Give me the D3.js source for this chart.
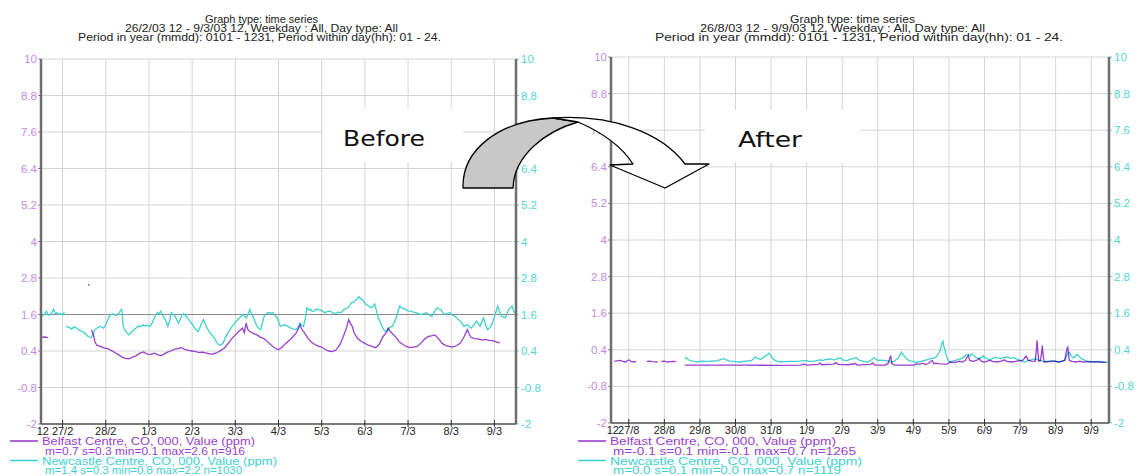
<!DOCTYPE html>
<html>
<head>
<meta charset="utf-8">
<script src="https://cdn.jsdelivr.net/npm/d3@7"></script>
<style>
  body { margin: 0; background: #fff; }
  svg { display: block; }
  text { font-family: "Liberation Sans Narrow", "Arial Narrow", "Liberation Sans", Arial, sans-serif; }
</style>
</head>
<body>
<svg id="chart" width="1137" height="476"></svg>
<script>
// ---- data (hours since the start of each period, value in ppm; null = gap) ----
const yTicks = [-2, -0.8, 0.4, 1.6, 2.8, 4, 5.2, 6.4, 7.6, 8.8, 10];
const yTickLabels = ["-2", "-0.8", "0.4", "1.6", "2.8", "4", "5.2", "6.4", "7.6", "8.8", "10"];

const beforeTickLabels = ["12", "27/2", "28/2", "1/3", "2/3", "3/3", "4/3", "5/3", "6/3", "7/3", "8/3", "9/3"];
const afterTickLabels = ["12", "27/8", "28/8", "29/8", "30/8", "31/8", "1/9", "2/9", "3/9", "4/9", "5/9", "6/9", "7/9", "8/9", "9/9"];

const beforeTitle = ["Graph type: time series",
  "26/2/03 12 - 9/3/03 12, Weekday : All, Day type: All",
  "Period in year (mmdd): 0101 - 1231, Period within day(hh): 01 - 24."];
const afterTitle = ["Graph type: time series",
  "26/8/03 12 - 9/9/03 12, Weekday : All, Day type: All",
  "Period in year (mmdd): 0101 - 1231, Period within day(hh): 01 - 24."];

const beforeLegend = ["Belfast Centre, CO, 000, Value (ppm)", "m=0.7 s=0.3 min=0.1 max=2.6 n=916",
  "Newcastle Centre, CO, 000, Value (ppm)", "m=1.4 s=0.3 min=0.8 max=2.2 n=1030"];
const afterLegend = ["Belfast Centre, CO, 000, Value (ppm)", "m=-0.1 s=0.1 min=-0.1 max=0.7 n=1265",
  "Newcastle Centre, CO, 000, Value (ppm)", "m=0.0 s=0.1 min=0.0 max=0.7 n=1119"];

const belfastBefore = [[0,0.85],[2,0.86],[4,0.84],[5,null],
  [26.3,2.6],[26.8,2.55],[27,null],
  [28,1.1],[29,0.95],[30,0.7],[31,0.59],[33,0.55],[35,0.5],[37,0.48],[39,0.42],[41,0.35],[43,0.28],[45,0.2],[47,0.16],[49,0.14],
  [51,0.2],[53,0.25],[55,0.33],[57,0.37],[59,0.3],[61,0.29],[63,0.33],[65,0.27],[67,0.25],[69,0.32],[71,0.38],[72,0.4],[74,0.45],
  [76,0.48],[78,0.51],[80,0.45],[82,0.42],[84,0.4],[86,0.38],[88,0.35],[90,0.36],[92,0.33],[94,0.3],[96,0.31],[98,0.35],[100,0.42],
  [102,0.5],[104,0.65],[106,0.8],[108,0.93],[110,1.05],[112,1.15],[113,1.0],[114,1.32],[115,1.1],[116,1.04],[118,0.98],[120,0.93],
  [122,0.85],[124,0.81],[126,0.7],[128,0.59],[130,0.5],[132,0.44],[134,0.52],[136,0.65],[138,0.75],[140,0.87],[142,1.0],[144,1.26],
  [145,1.1],[146,1.04],[148,0.85],[150,0.7],[152,0.62],[154,0.56],[156,0.53],[158,0.45],[160,0.4],[162,0.38],[164,0.44],[166,0.6],
  [168,0.87],[170,1.2],[171,1.43],[172,1.3],[173,1.21],[174,1.0],[176,0.81],[178,0.72],[180,0.65],[182,0.59],[184,0.55],[186,0.51],
  [188,0.62],[190,0.87],[192,1.0],[193,1.15],[194,1.05],[196,0.93],[198,0.8],[199,0.7],[201,0.62],[203,0.55],[205,0.51],[207,0.53],
  [209,0.55],[211,0.65],[213,0.78],[215,0.87],[217,0.9],[219,0.93],[221,0.8],[223,0.65],[225,0.58],[227,0.55],[229,0.53],[231,0.58],
  [233,0.65],[235,0.85],[237,1.1],[238,0.95],[239,0.85],[241,0.81],[243,0.8],[245,0.76],[247,0.78],[249,0.75],[251,0.74],[253,0.7],[255,0.67]];

const newcastleBefore = [[0.7,1.54],[2,1.62],[3.1,1.71],[4,1.58],[5.1,1.6],[6,1.66],[7,1.77],[8,1.62],[9,1.66],[10,1.6],[11,1.63],[12,1.58],[13,1.68],[13.5,null],
  [14,1.21],[15.5,1.18],[17,1.12],[18.5,1.2],[19.9,1.15],[21.5,1.08],[22.9,1.04],[24.5,0.98],[25.9,0.89],[27,0.86],[27.9,0.84],[29,0.95],
  [29.8,1.1],[31,1.15],[32.8,1.21],[34,1.18],[34.8,1.15],[36,1.26],[36.8,1.38],[38,1.55],[38.8,1.6],[40,1.62],[41.7,1.57],[43,1.63],
  [44.7,1.77],[45.2,1.6],[45.7,1.21],[47,1.05],[48.7,0.93],[50,1.0],[51.5,1.1],[52.7,1.15],[54,1.22],[55.5,1.2],[56.6,1.26],[58,1.22],
  [59,1.25],[60.6,1.21],[62,1.35],[63.5,1.55],[64.6,1.66],[65.5,1.62],[66.5,1.71],[67.5,1.6],[68.5,1.49],[69.5,1.38],[70.5,1.21],
  [71.5,1.4],[72.5,1.66],[73.5,1.6],[74.5,1.54],[75.5,1.42],[76.4,1.32],[77.5,1.45],[78.5,1.6],[79.4,1.63],[80.5,1.55],[81.4,1.49],
  [82.5,1.4],[83.4,1.32],[84.5,1.25],[85.4,1.15],[86.5,1.08],[87.4,1.04],[88.5,1.2],[89.5,1.35],[90.3,1.43],[91.3,1.3],[92.3,1.15],
  [93.3,1.05],[94.3,0.98],[95.3,0.9],[96.3,0.82],[97.5,0.7],[98.5,0.62],[99.3,0.59],[100.2,0.62],[101.2,0.65],[102.2,0.8],[103.2,0.93],
  [104.5,1.05],[106.2,1.21],[107.5,1.3],[109.2,1.43],[110.5,1.5],[112.1,1.6],[113,1.55],[114.1,1.49],[115,1.6],[116.1,1.77],[117,1.62],
  [118.1,1.49],[119,1.35],[120.1,1.21],[121,1.15],[122.1,1.1],[123,1.3],[124,1.54],[125,1.62],[126,1.66],[127.5,1.65],[129,1.66],
  [130,1.58],[131,1.52],[132,1.38],[133,1.21],[134.5,1.25],[135.9,1.26],[137.5,1.2],[138.9,1.15],[140.5,1.12],[141.9,1.1],[143,1.2],
  [143.9,1.32],[145,1.25],[145.9,1.21],[147,1.5],[147.8,1.82],[148.8,1.75],[149.8,1.77],[150.8,1.7],[151.8,1.71],[153,1.78],[154.8,1.75],
  [156.3,1.72],[157.8,1.66],[159.2,1.7],[160.7,1.71],[162.2,1.65],[163.7,1.63],[165.2,1.68],[166.7,1.66],[167.7,1.72],[168.7,1.77],
  [169.7,1.8],[170.6,1.82],[171.6,1.9],[172.6,1.99],[173.6,2.0],[174.6,2.05],[175.6,2.1],[176.6,2.19],[177.6,2.12],[178.6,2.1],
  [179.6,2.0],[180.6,1.94],[182,1.88],[183.5,1.82],[184.5,1.88],[185.5,1.94],[186.5,1.7],[187.5,1.49],[188.5,1.35],[189.5,1.21],
  [190.5,1.1],[191.5,1.04],[192.5,1.1],[193.4,1.15],[194.4,1.2],[195.4,1.21],[196.4,1.35],[197.4,1.49],[198.4,1.7],[199.4,1.88],
  [201,1.8],[202.4,1.77],[204,1.72],[205.3,1.71],[207,1.68],[208.3,1.66],[210,1.62],[211.3,1.6],[213,1.64],[214.3,1.66],[216,1.58],
  [217.2,1.54],[218.7,1.7],[220.2,1.82],[221.2,1.78],[222.2,1.77],[223.2,1.68],[224.2,1.6],[225.7,1.63],[227.2,1.66],[228.7,1.58],
  [230.1,1.54],[231.6,1.45],[233.1,1.38],[234.1,1.3],[235.1,1.21],[236.1,1.24],[237.1,1.26],[238.1,1.2],[239.1,1.15],[240.5,1.25],
  [242,1.38],[243,1.3],[244,1.21],[245,1.35],[246,1.49],[247,1.3],[248,1.1],[249,1.15],[250,1.21],[251,1.35],[251.9,1.49],[252.9,1.7],
  [253.9,1.88],[254.9,1.7],[255.9,1.54],[256.9,1.52],[257.9,1.49],[258.9,1.6],[259.9,1.77],[260.9,1.82],[261.8,1.88],[262.8,1.7],[264,1.62]];

const belfastAfter = [[2.3,0.02],[4,0.04],[6,0.05],[8,0.02],[9.8,0.0],[11,0.05],[12.2,0.07],[13.5,0.02],[14.7,0.0],[16.9,0.02],[17.5,null],
  [24.2,0.02],[26,0.03],[28,0.01],[31.5,0.0],[32,null],[34,0.02],[36.4,0.03],[38,0.0],[40,0.01],[42,0.02],[43.7,0.01],[44.5,null],
  [49.8,-0.1],[70,-0.1],[90,-0.1],[110,-0.11],[128,-0.1],[130,-0.06],[132,-0.1],[140,-0.08],[141,-0.03],[142,-0.09],[150,-0.07],
  [152,-0.02],[153,-0.08],[160,-0.09],[165,-0.05],[166,-0.1],[175,-0.08],[176.5,-0.03],[178,-0.1],[185,-0.1],[187,-0.04],[188.7,0.21],
  [189.5,-0.05],[191,-0.1],[200,-0.1],[204.5,-0.1],[206,-0.06],[208,-0.07],[210.6,-0.04],[212,-0.08],[214,-0.05],[216.7,0.05],
  [218,-0.06],[219.1,-0.04],[222,-0.06],[226.5,-0.07],[228.9,0.0],[231,-0.02],[233,0.0],[235,0.03],[237,0.0],[239,0.05],[240,0.14],
  [241.1,0.21],[242,0.05],[244.7,0.02],[246.5,0.05],[248.4,0.11],[250,0.02],[252,0.0],[254,0.03],[255.7,0.05],[257.5,0.02],[260.6,0.0],
  [263,0.03],[265.5,0.07],[267,0.02],[270,0.0],[272.8,0.02],[275,0.04],[278,0.06],[280.1,0.2],[281.5,0.06],[283.7,0.03],[286.2,0.02],
  [287,0.4],[287.4,0.7],[288,0.35],[288.6,0.03],[289.8,0.05],[290.5,0.3],[291,0.54],[291.6,0.2],[292.3,0.0],[294,0.02],[296,0.01],
  [299.6,0.03],[302,0.0],[304,0.02],[306.2,0.05],[307,0.3],[308.1,0.51],[309,0.12],[309.3,0.05],[311,0.02],[314.2,0.0],[316,0.03],
  [319.1,0.0],[322,0.01],[326.4,0.0],[330,0.0],[333.7,-0.01]];

const newcastleAfter = [[49.8,0.11],[51,0.14],[52,0.08],[53.4,0.05],[55,0.03],[56.5,0.02],[58.3,0.0],[60,0.02],[62,0.03],[64,0.02],
  [65.6,0.02],[67,0.03],[69,0.04],[70.5,0.03],[72,0.05],[74,0.08],[75.5,0.1],[76.6,0.11],[78,0.06],[80.2,0.03],[82,0.02],[84,0.01],
  [86,0.0],[87.5,0.0],[89,0.02],[91,0.03],[93,0.04],[94.9,0.05],[96,0.1],[97.3,0.16],[98.5,0.13],[99.7,0.11],[101,0.08],[102.5,0.14],
  [104.6,0.21],[105.5,0.24],[106.6,0.29],[107.5,0.24],[108.3,0.16],[109.5,0.1],[110.7,0.05],[112.5,0.02],[114.4,0.0],[117,0.01],
  [120,0.02],[124.1,0.02],[127,0.03],[129,0.04],[131.4,0.05],[133,0.03],[134.5,0.02],[136.3,0.02],[138,0.04],[140,0.06],[141.2,0.07],
  [143,0.05],[144.5,0.08],[146,0.09],[148,0.1],[149.5,0.08],[150.9,0.07],[152.5,0.1],[153.5,0.12],[154.6,0.14],[156,0.08],[157,0.06],
  [158.2,0.05],[160,0.06],[161.5,0.09],[163.1,0.11],[164.5,0.13],[165.5,0.14],[166.5,0.09],[168,0.05],[170,0.03],[171.5,0.01],
  [172.8,0.0],[174.5,0.03],[176,0.08],[177.7,0.14],[179,0.08],[180.2,0.05],[182,0.06],[183.5,0.05],[185,0.05],[187,0.03],[188.5,0.01],
  [189.9,0.0],[191.5,0.04],[192.5,0.09],[193.6,0.11],[194.5,0.2],[196,0.32],[197,0.25],[198.4,0.16],[200,0.08],[202.1,0.03],[204,0.02],
  [205.5,-0.02],[207,0.0],[209,0.02],[211.8,0.05],[213.5,0.08],[215.5,0.11],[217.5,0.13],[219.1,0.16],[220.5,0.24],[221.6,0.32],
  [222.5,0.45],[223.3,0.62],[224,0.68],[224.6,0.5],[225.2,0.43],[225.8,0.3],[226.5,0.16],[227.5,0.05],[228.9,0.0],[230.5,0.03],
  [232.5,0.05],[234.5,0.09],[236.2,0.11],[238,0.16],[239.5,0.22],[241.1,0.25],[242.5,0.2],[243.5,0.27],[244.7,0.21],[246.5,0.14],
  [248.4,0.11],[250,0.16],[251,0.2],[252,0.16],[254,0.1],[255.7,0.07],[257.5,0.12],[259.4,0.16],[261,0.13],[263,0.11],[265,0.15],
  [267.9,0.16],[269.5,0.12],[271.5,0.14],[273.5,0.1],[275.2,0.07],[277,0.03],[278.9,0.0],[280.5,0.03],[282.5,0.05],[284.5,0.09],
  [286.2,0.11],[288,0.07],[289.8,0.05],[291.5,0.02],[293.5,0.0],[295.5,0.03],[297.1,0.05],[299.5,0.03],[302,0.0],[304,0.03],[305.7,0.05],
  [307,0.15],[308.2,0.28],[309.3,0.32],[310.5,0.2],[311.8,0.14],[313,0.16],[314,0.24],[315.4,0.21],[317,0.12],[319.1,0.07],[321.5,0.03],
  [324,0.0],[326.5,0.01],[328.8,0.02],[331,0.0],[333.7,-0.01],[336,0.0]];

// ---- colours ----
const purple = "#9a3fcf", cyan = "#3fd0d0";
const purpleLabel = "#c48ae6", cyanLabel = "#55d4d4";

const svg = d3.select("#chart");

function drawPanel(p) {
  const g = svg.append("g");
  const x = d3.scaleLinear().domain([0, p.hours]).range([p.left, p.right]);
  const y = d3.scaleLinear().domain([-2, 10]).range([p.bottom, p.top]);
  const tickHours = p.tickLabels.map((d, i) => i === 0 ? 0 : 12 + 24 * (i - 1));

  // grid
  g.selectAll(".vg").data(tickHours.slice(1)).enter().append("line")
    .attr("x1", d => x(d)).attr("x2", d => x(d))
    .attr("y1", p.top).attr("y2", p.bottom)
    .attr("stroke", "#d4d4d4").attr("stroke-width", 1);
  g.selectAll(".hg").data(yTicks).enter().append("line")
    .attr("x1", p.left).attr("x2", p.right)
    .attr("y1", d => y(d)).attr("y2", d => y(d))
    .attr("stroke", d => (p.darkLine === d ? "#8a8a8a" : "#d4d4d4")).attr("stroke-width", 1);

  // y tick labels, left (purple) and right (cyan)
  g.selectAll(".yl").data(yTicks).enter().append("text")
    .attr("x", p.left - 4).attr("y", d => y(d) + 4)
    .attr("text-anchor", "end").attr("font-size", 11.5).attr("fill", purpleLabel)
    .text((d, i) => yTickLabels[i]);
  g.selectAll(".yr").data(yTicks).enter().append("text")
    .attr("x", p.right + 5).attr("y", d => y(d) + 4)
    .attr("font-size", 11.5).attr("fill", cyanLabel)
    .text((d, i) => yTickLabels[i]);
  g.selectAll(".ytl").data(yTicks).enter().append("line")
    .attr("x1", p.left - 3).attr("x2", p.left).attr("y1", d => y(d)).attr("y2", d => y(d))
    .attr("stroke", "#888");
  g.selectAll(".ytr").data(yTicks).enter().append("line")
    .attr("x1", p.right).attr("x2", p.right + 3).attr("y1", d => y(d)).attr("y2", d => y(d))
    .attr("stroke", cyanLabel);

  // series
  const clipId = "clip" + p.left;
  svg.append("clipPath").attr("id", clipId).append("rect")
    .attr("x", p.left).attr("y", p.top).attr("width", p.right - p.left).attr("height", p.bottom - p.top);
  const line = d3.line().defined(d => d[1] !== null).x(d => x(d[0])).y(d => y(d[1]));
  const lines = g.append("g").attr("clip-path", "url(#" + clipId + ")");
  lines.append("path").datum(p.newcastle).attr("d", line)
    .attr("fill", "none").attr("stroke", cyan).attr("stroke-width", 1.3);
  lines.append("path").datum(p.belfast).attr("d", line)
    .attr("fill", "none").attr("stroke", purple).attr("stroke-width", 1.3)
    .style("mix-blend-mode", "multiply");

  // axes frame
  g.append("line").attr("x1", p.left).attr("x2", p.left).attr("y1", p.top).attr("y2", p.bottom)
    .attr("stroke", "#6e6e6e").attr("stroke-width", 2.5);
  g.append("line").attr("x1", p.right).attr("x2", p.right).attr("y1", p.top).attr("y2", p.bottom)
    .attr("stroke", "#6e6e6e").attr("stroke-width", 2.5);
  g.append("line").attr("x1", p.left).attr("x2", p.right).attr("y1", p.bottom).attr("y2", p.bottom)
    .attr("stroke", "#555").attr("stroke-width", 1.5);

  // x ticks and labels (first label is the start hour, set just left of the first day)
  g.selectAll(".xt").data(tickHours.slice(1)).enter().append("line")
    .attr("x1", d => x(d)).attr("x2", d => x(d)).attr("y1", p.bottom - 4).attr("y2", p.bottom + 3)
    .attr("stroke", "#333");
  g.selectAll(".xl").data(tickHours).enter().append("text")
    .attr("x", d => x(d) + (d === 0 ? 8 : 0)).attr("y", p.bottom + 11)
    .attr("text-anchor", d => d === 0 ? "end" : "middle")
    .attr("font-size", 11).attr("fill", "#222")
    .text((d, i) => p.tickLabels[i]);

  // title
  g.selectAll(".tt").data(p.title).enter().append("text")
    .attr("x", (d, i) => p.titleX[i]).attr("y", (d, i) => [23, 32, 41][i])
    .attr("font-size", 10).attr("fill", "#222")
    .attr("textLength", (d, i) => p.titleW[i]).attr("lengthAdjust", "spacingAndGlyphs")
    .text(d => d);

  // legend
  const legY = [445, 454.5, 464.5, 474];
  const legC = [purple, purple, cyan, cyan];
  [0, 2].forEach(i => {
    g.append("line").attr("x1", p.legX).attr("x2", p.legX + 28)
      .attr("y1", legY[i] - 4).attr("y2", legY[i] - 4)
      .attr("stroke", legC[i]).attr("stroke-width", 1.6);
  });
  g.selectAll(".lg").data(p.legend).enter().append("text")
    .attr("x", (d, i) => p.legX + (i % 2 === 0 ? 32 : 35)).attr("y", (d, i) => legY[i])
    .attr("font-size", 10).attr("fill", (d, i) => legC[i])
    .attr("textLength", (d, i) => p.legW[i]).attr("lengthAdjust", "spacingAndGlyphs")
    .text(d => d);
}

drawPanel({
  left: 41, right: 516, top: 59, bottom: 424, hours: 264,
  tickLabels: beforeTickLabels, belfast: belfastBefore, newcastle: newcastleBefore,
  title: beforeTitle, titleX: [205, 125, 78], titleW: [113, 273, 363],
  legend: beforeLegend, legX: 10, legW: [213, 200, 235, 197], darkLine: 1.6
});
drawPanel({
  left: 611, right: 1109, top: 57, bottom: 423, hours: 336,
  tickLabels: afterTickLabels, belfast: belfastAfter, newcastle: newcastleAfter,
  title: afterTitle, titleX: [790, 700, 655], titleW: [125, 285, 408],
  legend: afterLegend, legX: 578, legW: [226, 243, 252, 228], darkLine: null
});

// ---- "Before" / "After" annotation with curved arrow ----
const note = svg.append("g");
note.append("rect").attr("x", 323).attr("y", 108).attr("width", 140).attr("height", 54).attr("fill", "#fff");
note.append("rect").attr("x", 705).attr("y", 110).attr("width", 155).attr("height", 52).attr("fill", "#fff");
note.append("text").attr("x", 343).attr("y", 146).attr("font-size", 22)
  .style("font-family", "'DejaVu Sans', Verdana, sans-serif").attr("fill", "#111")
  .attr("textLength", 82).attr("lengthAdjust", "spacingAndGlyphs").text("Before");
note.append("text").attr("x", 738).attr("y", 147).attr("font-size", 22)
  .style("font-family", "'DejaVu Sans', Verdana, sans-serif").attr("fill", "#111")
  .attr("textLength", 64).attr("lengthAdjust", "spacingAndGlyphs").text("After");
note.append("path")
  .attr("d", "M463,188 C462,150 498,121 553,118 L578,122 C546,131 514,155 513,188 Z")
  .attr("fill", "#c8c8c8").attr("stroke", "#000").attr("stroke-width", 1.3).attr("stroke-linejoin", "round");
note.append("path")
  .attr("d", "M553,118 C612,114 662,133 685,164 L709,164 L665,188 L610,165 L633,164 C624,150 606,134 578,122 Z")
  .attr("fill", "#fff").attr("stroke", "#000").attr("stroke-width", 1.3).attr("stroke-linejoin", "round");
</script>
</body>
</html>
